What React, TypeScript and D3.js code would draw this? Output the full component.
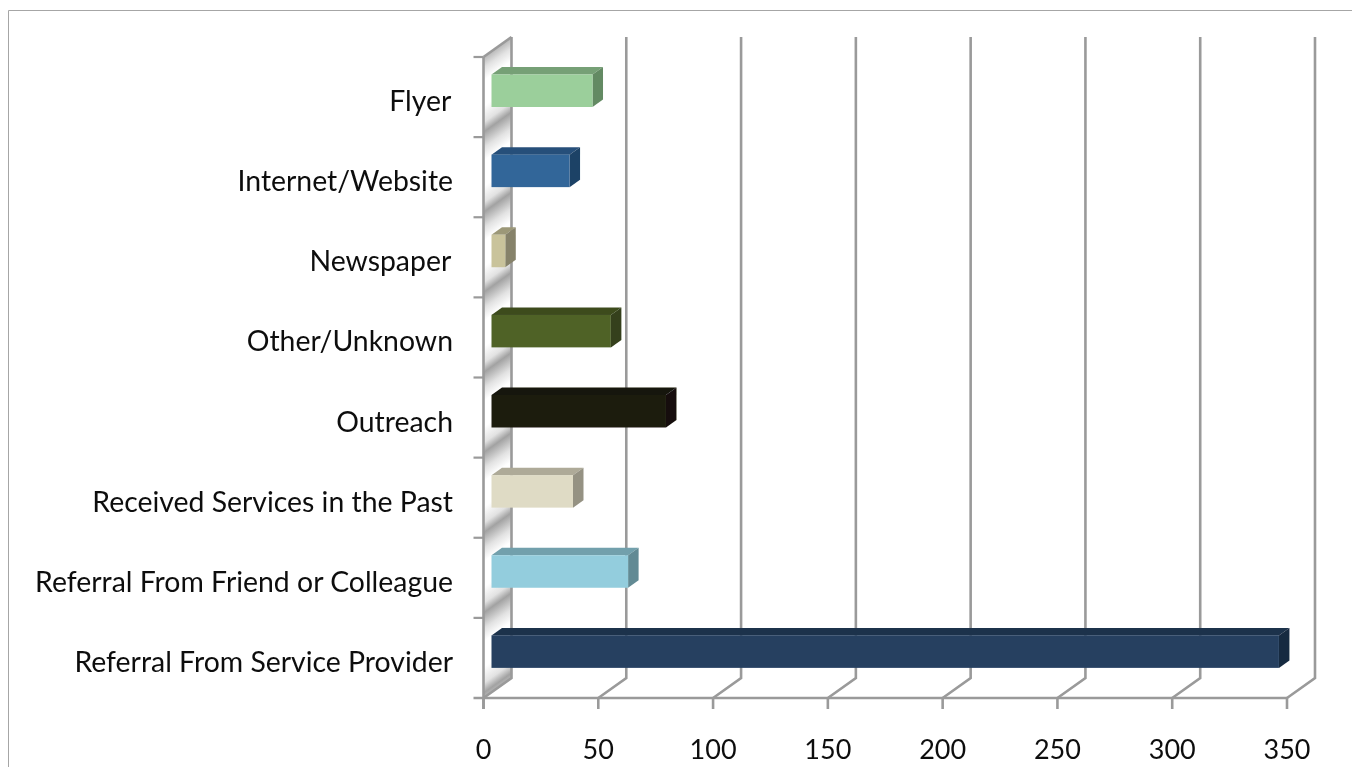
import React from "react";
import * as d3 from "d3";

const categories = [
  "Flyer\u200A",
  "Internet/Website",
  "Newspaper\u200A",
  "Other/Unknown",
  "Outreach",
  "Received Services in the Past",
  "Referral From Friend or Colleague",
  "Referral From Service Provider",
];
const counts = [44, 34, 6, 52, 76, 35.5, 59.5, 343];
const frontColors = ["#9bcf9b", "#336699", "#c9c39b", "#4f6228", "#1f1c10", "#dfdbc5", "#93cddd", "#254061"];
const topColors = ["#76a076", "#27507a", "#9c9878", "#3d4c1f", "#17150b", "#aeaa98", "#72a0ac", "#1d324c"];
const sideColors = ["#648a64", "#1f4366", "#86826a", "#34411a", "#13110a", "#959283", "#628a94", "#182a40"];
const valueTicks = [0, 50, 100, 150, 200, 250, 300, 350];

const DEPTH_X = 28;
const DEPTH_Y = 20;
const BAR_DX = 10.5;
const BAR_DY = 7.5;
const AXIS = "#9a9a9a";
const LABEL = "'Lato', 'Open Sans', sans-serif";

const x = d3.scaleLinear().domain([0, 350]).range([483.5, 1287]);
const y = d3.scaleBand<string>().domain(categories).range([57, 698]);

export default function App() {
  const floorY = 698;
  const topY = 57;
  const base = x(0);
  const bh = y.bandwidth();
  const slope = DEPTH_Y / DEPTH_X;
  const wall = `M${base},${topY}L${base + DEPTH_X},${topY - DEPTH_Y}V${floorY - DEPTH_Y}L${base},${floorY}Z`;
  // Phase of the repeating stripes, measured along the skewed depth direction.
  const phase = topY - 5 + base * slope;
  return (
    <svg
      width={1352}
      height={767}
      style={{ position: "absolute", left: 0, top: 0, background: "#fff" }}
      fontFamily={LABEL}
    >
      <defs>
        <linearGradient
          id="wallShade"
          gradientUnits="userSpaceOnUse"
          x1={0}
          y1={phase}
          x2={0}
          y2={phase + bh}
          spreadMethod="repeat"
          gradientTransform={`skewY(${(-Math.atan(slope) * 180) / Math.PI})`}
        >
          <stop offset="0" stopColor="#a2a2a2" />
          <stop offset="0.2" stopColor="#e2e2e2" />
          <stop offset="0.36" stopColor="#ffffff" />
          <stop offset="0.68" stopColor="#ffffff" />
          <stop offset="0.88" stopColor="#e2e2e2" />
          <stop offset="1" stopColor="#a2a2a2" />
        </linearGradient>
        <filter id="soft" x="-5%" y="-5%" width="110%" height="110%">
          <feGaussianBlur stdDeviation="0.7" />
        </filter>
        <filter id="softText" x="-5%" y="-20%" width="110%" height="140%">
          <feGaussianBlur stdDeviation="0.35" />
        </filter>
      </defs>
      <path d="M8.5,767V10.5H1352" fill="none" stroke="#a6a6a6" strokeWidth={1} />
      <g filter="url(#soft)">
        <path d={wall} fill="url(#wallShade)" />
        {/* back wall gridlines and floor diagonals */}
        {valueTicks.map((t) => (
          <path
            key={t}
            d={`M${x(t)},${floorY}L${x(t) + DEPTH_X},${floorY - DEPTH_Y}V${topY - DEPTH_Y}`}
            fill="none"
            stroke={AXIS}
            strokeWidth={2.6}
          />
        ))}
        <path d={`M${base},${topY}L${base + DEPTH_X},${topY - DEPTH_Y}`} fill="none" stroke={AXIS} strokeWidth={2.6} />
        <path d={`M${base},${topY}V${floorY + 11}`} fill="none" stroke={AXIS} strokeWidth={2.6} />
        <path d={`M${base - 10},${floorY}H${x(350)}`} fill="none" stroke={AXIS} strokeWidth={2.6} />
        {categories.map((c) => (
          <path key={c} d={`M${base - 10},${y(c)}H${base}`} stroke={AXIS} strokeWidth={2.2} />
        ))}
        {valueTicks.map((t) => (
          <path key={t} d={`M${x(t)},${floorY}V${floorY + 11}`} stroke={AXIS} strokeWidth={2.6} />
        ))}
        {/* each bar is a front face with a top and a side face */}
        {categories.map((c, i) => {
          const left = base + 8;
          const right = left + (x(counts[i]) - x(0));
          const top = y(c)! + 17.5;
          const bottom = top + 32.5;
          return (
            <g key={c}>
              <path
                d={`M${left},${top}l${BAR_DX},${-BAR_DY}H${right + BAR_DX}l${-BAR_DX},${BAR_DY}Z`}
                fill={topColors[i]}
              />
              <path
                d={`M${right},${top}l${BAR_DX},${-BAR_DY}V${bottom - BAR_DY}l${-BAR_DX},${BAR_DY}Z`}
                fill={sideColors[i]}
              />
              <rect x={left} y={top} width={right - left} height={bottom - top} fill={frontColors[i]} />
            </g>
          );
        })}
      </g>
      <g filter="url(#softText)">
        {categories.map((c) => (
          <text key={c} x={453} y={y(c)! + 54} textAnchor="end" fontSize={28.4} fill="#111">
            {c}
          </text>
        ))}
        {valueTicks.map((t) => (
          <text key={t} x={x(t)} y={759} textAnchor="middle" fontSize={27} fill="#111">
            {t}
          </text>
        ))}
      </g>
    </svg>
  );
}
